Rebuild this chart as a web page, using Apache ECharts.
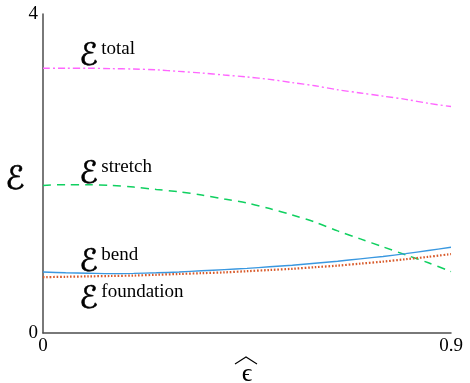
<!DOCTYPE html>
<html>
<head>
<meta charset="utf-8">
<script src="https://cdn.jsdelivr.net/npm/echarts@6/dist/echarts.min.js"></script>
<style>
  html, body { margin: 0; padding: 0; background: #fff; }
  #chart { width: 470px; height: 383px; }
</style>
</head>
<body>
<div id="chart"></div>
<script>
// Strain values at which the energies are sampled
const strain = [0, 0.05, 0.1, 0.15, 0.2, 0.25, 0.3, 0.35, 0.4, 0.45,
                0.5, 0.55, 0.6, 0.65, 0.7, 0.75, 0.8, 0.85, 0.9];

// Energy contributions
const energyTotal = [3.32, 3.32, 3.32, 3.315, 3.31, 3.30, 3.28, 3.26, 3.235, 3.21,
                     3.18, 3.14, 3.10, 3.05, 3.01, 2.97, 2.93, 2.88, 2.84];
const energyStretch = [1.85, 1.86, 1.86, 1.85, 1.83, 1.80, 1.77, 1.73, 1.68, 1.63,
                       1.56, 1.48, 1.39, 1.28, 1.18, 1.08, 0.98, 0.88, 0.77];
const energyBend = [0.765, 0.755, 0.75, 0.745, 0.748, 0.755, 0.765, 0.78, 0.795, 0.81,
                    0.83, 0.85, 0.875, 0.90, 0.93, 0.96, 0.995, 1.035, 1.075];
const energyFoundation = [0.70, 0.705, 0.71, 0.715, 0.72, 0.73, 0.74, 0.75, 0.76, 0.775,
                          0.79, 0.805, 0.825, 0.845, 0.87, 0.895, 0.925, 0.955, 0.99];

// Axis tick labels
const xTicks = [0, 0.9];
const yTicks = [0, 4];

const serif = '"Liberation Serif", "DejaVu Serif", serif';
const scriptFont = '"DejaVu Sans", sans-serif';
const axisColor = '#4d4d4d';

const pairs = (ys) => strain.map((x, i) => [x, ys[i]]);

function lineSeries(name, ys, color, type, width) {
  return {
    name: name,
    type: 'line',
    data: pairs(ys),
    smooth: 0.3,
    showSymbol: false,
    silent: true,
    lineStyle: { color: color, width: width, type: type, cap: 'butt' }
  };
}

// Script E, drawn slightly heavier than the font's own weight
function scriptE(x, y, size) {
  return {
    type: 'text', x: x, y: y, silent: true,
    style: { text: 'ℰ', font: size + 'px ' + scriptFont, fill: '#000',
             stroke: '#000', lineWidth: 0.6, verticalAlign: 'top' }
  };
}

// Superscripted energy symbols placed next to each curve
function energyLabel(sup, x, yTop) {
  return {
    type: 'group',
    left: x,
    top: yTop,
    children: [
      scriptE(0, 0, 31),
      { type: 'text', x: 22, y: -1, silent: true,
        style: { text: sup, font: '19px ' + serif, fill: '#000', verticalAlign: 'top' } }
    ]
  };
}

const chart = echarts.init(document.getElementById('chart'), null, { renderer: 'canvas' });

chart.setOption({
  animation: false,
  backgroundColor: '#fff',
  grid: { left: 43, right: 19, top: 14, bottom: 50, outerBoundsMode: 'none', containLabel: false },
  xAxis: {
    type: 'value',
    min: xTicks[0],
    max: xTicks[1],
    interval: xTicks[1] - xTicks[0],
    name: 'ϵ',
    nameLocation: 'middle',
    nameGap: 19,
    nameTextStyle: { fontFamily: serif, fontSize: 26, color: '#000' },
    axisLine: { show: true, lineStyle: { color: axisColor, width: 1.5 } },
    axisTick: { show: false },
    splitLine: { show: false },
    axisLabel: {
      fontFamily: serif, fontSize: 19, color: '#000', margin: 4,
      formatter: (v) => (xTicks.indexOf(v) >= 0 ? String(v) : '')
    }
  },
  yAxis: {
    type: 'value',
    min: yTicks[0],
    max: yTicks[1],
    interval: yTicks[1] - yTicks[0],
    axisLine: { show: true, lineStyle: { color: axisColor, width: 1.5 } },
    axisTick: { show: false },
    splitLine: { show: false },
    axisLabel: {
      fontFamily: serif, fontSize: 19, color: '#000', margin: 5,
      formatter: (v) => (yTicks.indexOf(v) >= 0 ? String(v) : '')
    }
  },
  series: [
    lineSeries('total', energyTotal, '#ff66ff', [7, 3, 2, 3], 1.4),
    lineSeries('stretch', energyStretch, '#10d060', [8, 6], 1.5),
    lineSeries('bend', energyBend, '#3a98e0', 'solid', 1.4),
    lineSeries('foundation', energyFoundation, '#d85a2a', [1.6, 1.8], 2.2)
  ],
  graphic: [
    // y-axis name
    { type: 'group', left: 5, top: 164, children: [scriptE(0, 0, 32)] },
    energyLabel('total', 79, 40),
    energyLabel('stretch', 79, 158),
    energyLabel('bend', 79, 246),
    energyLabel('foundation', 79, 283),
    // wide hat over the strain symbol
    { type: 'polyline', silent: true,
      shape: { points: [[235, 364], [246, 357], [257, 364]] },
      style: { stroke: '#000', lineWidth: 1.1, fill: null } }
  ]
});
</script>
</body>
</html>
